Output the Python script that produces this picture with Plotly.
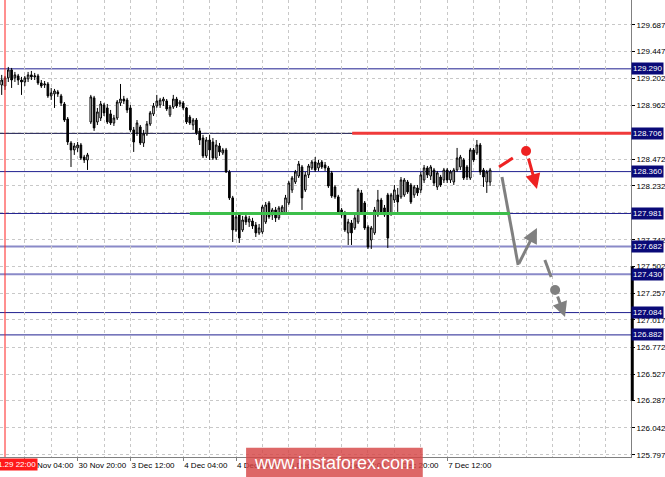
import plotly.graph_objects as go

# ---------------- data ----------------
bar_index = list(range(-1, 148))  # H1 bars, 0 = 2018.11.29 22:00

opens = [129.144,129.135,129.208,129.280,129.208,129.226,129.189,129.171,129.199,129.235,
         129.217,129.226,129.162,129.144,129.153,129.045,129.063,129.081,129.045,128.972,
         128.836,128.619,128.556,128.574,128.601,128.492,128.465,
         128.809,129.027,128.809,128.845,128.963,128.936,128.882,128.800,128.845,128.981,
         129.017,129.008,128.936,128.737,128.710,128.764,128.619,128.701,128.791,128.882,
         128.954,128.963,128.999,128.999,128.873,128.945,129.017,128.972,128.981,128.936,
         128.854,128.782,128.827,128.728,128.664,128.502,128.646,128.628,128.483,128.592,
         128.529,128.556,128.357,128.122,127.832,127.968,127.832,127.950,127.904,127.913,
         127.877,127.805,127.814,127.904,128.076,127.968,128.013,127.941,127.995,127.986,
         128.076,128.194,128.266,128.320,128.402,128.194,128.330,128.393,128.447,128.393,
         128.447,128.420,128.393,128.348,128.221,128.131,128.013,127.986,127.805,127.895,
         127.850,127.904,128.167,128.076,127.859,127.741,127.805,127.968,128.103,128.031,
         128.149,127.986,128.103,128.149,128.131,128.149,128.266,128.239,128.149,128.212,
         128.194,128.284,128.393,128.320,128.375,128.221,128.311,128.284,128.375,128.284,
         128.266,128.375,128.402,128.465,128.402,128.302,128.556,128.529,128.601,128.375,
         128.266,128.266]
highs = [129.235,129.226,129.307,129.298,129.262,129.244,129.217,129.226,129.262,129.271,
         129.253,129.244,129.189,129.180,129.171,129.117,129.108,129.099,129.063,128.990,
         128.854,128.637,128.619,128.628,128.619,128.511,128.529,
         129.054,129.045,128.936,128.999,128.981,128.972,128.918,128.873,129.008,129.153,
         129.045,129.027,128.963,128.764,128.827,128.782,128.737,128.818,128.909,128.981,
         129.054,129.027,129.036,129.017,128.963,129.054,129.036,129.008,128.999,128.945,
         128.873,128.845,128.845,128.755,128.692,128.673,128.692,128.664,128.646,128.619,
         128.574,128.574,128.375,128.140,127.977,127.986,127.959,127.968,127.959,127.941,
         127.904,127.886,128.058,128.085,128.094,128.031,128.040,128.049,128.058,128.149,
         128.275,128.320,128.375,128.456,128.420,128.357,128.429,128.465,128.492,128.465,
         128.465,128.447,128.411,128.366,128.239,128.149,128.031,128.004,127.932,127.922,
         127.968,128.212,128.194,128.094,127.877,127.868,128.040,128.194,128.122,128.058,
         128.167,128.167,128.239,128.212,128.311,128.302,128.284,128.257,128.239,128.239,
         128.357,128.420,128.411,128.420,128.393,128.366,128.330,128.393,128.393,128.375,
         128.393,128.574,128.511,128.483,128.420,128.574,128.574,128.646,128.619,128.393,
         128.375,128.393]
lows = [129.054,129.099,129.171,129.117,129.171,129.144,129.054,129.135,129.171,129.189,
        129.189,129.144,129.117,129.117,129.027,129.008,128.936,129.036,128.954,128.809,
        128.601,128.402,128.511,128.538,128.465,128.438,128.375,
        128.791,128.728,128.782,128.818,128.863,128.791,128.782,128.773,128.827,128.954,
        128.972,128.891,128.719,128.538,128.683,128.601,128.583,128.683,128.773,128.863,
        128.936,128.936,128.954,128.909,128.854,128.927,128.936,128.945,128.918,128.791,
        128.782,128.737,128.692,128.601,128.483,128.483,128.465,128.465,128.465,128.502,
        128.511,128.348,128.103,127.723,127.814,127.714,127.814,127.877,127.859,127.841,
        127.768,127.787,127.796,127.886,127.932,127.922,127.904,127.922,127.977,127.968,
        128.058,128.167,128.248,128.302,128.013,128.176,128.302,128.375,128.357,128.366,
        128.384,128.366,128.212,128.122,128.113,127.968,127.941,127.814,127.696,127.696,
        127.832,127.886,127.977,127.832,127.660,127.660,127.787,127.950,127.977,127.950,
        127.669,127.959,128.076,127.995,128.113,128.131,128.158,128.067,128.122,128.140,
        128.167,128.257,128.302,128.284,128.230,128.194,128.221,128.257,128.257,128.257,
        128.239,128.357,128.375,128.284,128.284,128.284,128.447,128.511,128.330,128.221,
        128.167,128.230]
closes = [129.189,129.208,129.280,129.189,129.235,129.189,129.171,129.208,129.235,129.217,
          129.226,129.162,129.135,129.153,129.045,129.072,129.090,129.063,128.981,128.827,
          128.628,128.556,128.592,128.601,128.483,128.465,128.511,
          129.036,128.755,128.900,128.972,128.891,128.809,128.800,128.845,128.990,129.017,
          128.999,128.918,128.737,128.628,128.800,128.619,128.701,128.791,128.891,128.954,
          128.999,129.008,129.017,128.927,128.945,129.017,128.954,128.990,128.936,128.809,
          128.800,128.827,128.710,128.646,128.502,128.646,128.556,128.483,128.601,128.538,
          128.556,128.357,128.122,127.832,127.950,127.759,127.922,127.904,127.932,127.868,
          127.805,127.850,128.040,128.058,127.950,128.013,127.941,128.031,128.040,128.122,
          128.257,128.302,128.357,128.429,128.122,128.330,128.411,128.447,128.375,128.438,
          128.402,128.393,128.230,128.140,128.131,127.986,127.968,127.832,127.904,127.805,
          127.941,128.194,127.995,127.850,127.678,127.850,128.013,128.103,127.995,127.968,
          127.759,128.149,128.194,128.085,128.284,128.284,128.176,128.085,128.221,128.167,
          128.330,128.393,128.330,128.402,128.257,128.348,128.239,128.375,128.284,128.357,
          128.375,128.483,128.492,128.302,128.311,128.556,128.465,128.601,128.357,128.311,
          128.357,128.375]

# x-axis time labels (bar index -> label)
time_label_bars = [6, 22, 38, 54, 70, 86, 102, 118, 134]
time_labels = ["30 Nov 04:00", "30 Nov 20:00", "3 Dec 12:00", "4 Dec 04:00", "4 Dec 20:00",
               "5 Dec 12:00", "6 Dec 04:00", "6 Dec 20:00", "7 Dec 12:00"]
separator_bar = 0
separator_label = "2018.11.29 22:00"

# price scale labels
price_ticks = [129.687, 129.447, 129.202, 128.962, 128.717, 128.472, 128.232, 127.987,
               127.742, 127.502, 127.257, 127.017, 126.772, 126.527, 126.287, 126.042, 125.797]
price_tick_text = ["129.687", "129.447", "129.202", "128.962", "", "128.472", "128.232", "",
                   "127.742", "127.502", "127.257", "127.017", "126.772", "126.527", "126.287",
                   "126.042", "125.797"]

# horizontal levels
levels = [129.290, 128.706, 128.360, 127.981, 127.682, 127.430, 127.084, 126.882]
level_colors = ["#1f1f8f", "#15154a", "#1f1f8f", "#1f1f8f", "#8a8ac8", "#8a8ac8", "#1f1f8f", "#1f1f8f"]
level_widths = [1, 1, 1, 1, 2, 2, 1, 1]

resistance_level = 128.706
resistance_from_bar = 105.2
support_level = 127.981
support_bars = [56, 153]

# scenario drawings (bar index, price)
red_seg_x = [149.7, 153.9]
red_seg_y = [128.402, 128.483]
red_dot = (157.9, 128.547)
red_arrow = [(158.5, 128.492), (161.2, 128.203)]
gray_seg_x = [150.6, 155.5]
gray_seg_y = [128.311, 127.515]
gray_arrow1 = [(155.5, 127.515), (161.2, 127.850)]
gray_seg2_x = [163.6, 165.5]
gray_seg2_y = [127.560, 127.406]
gray_dot = (166.7, 127.289)
gray_arrow2 = [(167.3, 127.243), (169.7, 127.044)]

# ---------------- figure ----------------
fig = go.Figure()
fig.add_trace(go.Candlestick(
    x=bar_index, open=opens, high=highs, low=lows, close=closes,
    increasing=dict(line=dict(color="black", width=1), fillcolor="white"),
    decreasing=dict(line=dict(color="black", width=1), fillcolor="black"),
    whiskerwidth=0, showlegend=False, hoverinfo="skip"))

shapes = []
for lv, col, w in zip(levels, level_colors, level_widths):
    shapes.append(dict(type="line", xref="paper", x0=0, x1=1, yref="y", y0=lv, y1=lv,
                       line=dict(color=col, width=w), layer="below"))
shapes.append(dict(type="line", xref="x", x0=resistance_from_bar, x1=189.7, yref="y",
                   y0=resistance_level, y1=resistance_level, line=dict(color="#f03a3a", width=3)))
shapes.append(dict(type="line", xref="x", x0=support_bars[0], x1=support_bars[1], yref="y",
                   y0=support_level, y1=support_level, line=dict(color="#3cbf4a", width=3)))
shapes.append(dict(type="line", xref="x", x0=separator_bar, x1=separator_bar, yref="paper",
                   y0=0, y1=1, line=dict(color="#ff2020", width=1)))
shapes.append(dict(type="line", xref="paper", x0=1.002, x1=1.002, yref="y", y0=127.502, y1=126.287,
                   line=dict(color="black", width=3)))
# watermark box
shapes.append(dict(type="rect", xref="paper", yref="paper", x0=0.39, x1=0.67, y0=0.02, y1=-0.05,
                   fillcolor="rgba(214,70,70,0.82)", line=dict(width=0), layer="above"))
fig.update_layout(shapes=shapes)

fig.add_trace(go.Scatter(x=red_seg_x, y=red_seg_y, mode="lines",
                         line=dict(color="#ee2222", width=3), showlegend=False, hoverinfo="skip"))
fig.add_trace(go.Scatter(x=[red_dot[0]], y=[red_dot[1]], mode="markers",
                         marker=dict(color="#ee2222", size=10), showlegend=False, hoverinfo="skip"))
fig.add_trace(go.Scatter(x=gray_seg_x, y=gray_seg_y, mode="lines",
                         line=dict(color="#808080", width=3), showlegend=False, hoverinfo="skip"))
fig.add_trace(go.Scatter(x=gray_seg2_x, y=gray_seg2_y, mode="lines",
                         line=dict(color="#808080", width=3), showlegend=False, hoverinfo="skip"))
fig.add_trace(go.Scatter(x=[gray_dot[0]], y=[gray_dot[1]], mode="markers",
                         marker=dict(color="#808080", size=10), showlegend=False, hoverinfo="skip"))

annotations = []
for (tail, head, col) in [(red_arrow[0], red_arrow[1], "#ee2222"),
                          (gray_arrow1[0], gray_arrow1[1], "#808080"),
                          (gray_arrow2[0], gray_arrow2[1], "#808080")]:
    annotations.append(dict(x=head[0], y=head[1], ax=tail[0], ay=tail[1], xref="x", yref="y",
                            axref="x", ayref="y", text="", showarrow=True, arrowhead=2,
                            arrowsize=1, arrowwidth=3, arrowcolor=col, standoff=0))
for lv in levels:
    annotations.append(dict(x=1, y=lv, xref="paper", yref="y", xanchor="left", yanchor="middle",
                            text=f"{lv:.3f}", showarrow=False, bgcolor="#0a0a78",
                            font=dict(color="white", size=8, family="Liberation Sans"),
                            borderpad=1))
annotations.append(dict(x=separator_bar, y=-0.003, xref="x", yref="paper", xanchor="center",
                        yanchor="top", text=separator_label, showarrow=False, bgcolor="#ff1a1a",
                        font=dict(color="white", size=8, family="Liberation Sans"), borderpad=1))
annotations.append(dict(x=0.53, y=-0.013, xref="paper", yref="paper", xanchor="center",
                        yanchor="middle", text="www.instaforex.com", showarrow=False,
                        font=dict(color="white", size=18, family="Liberation Sans")))
fig.update_layout(annotations=annotations)

fig.update_layout(
    width=665, height=477,
    margin=dict(l=0, r=34, t=0, b=20),
    paper_bgcolor="white", plot_bgcolor="white",
    showlegend=False,
    xaxis=dict(range=[-1.515, 189.7], rangeslider=dict(visible=False),
               tickmode="array", tickvals=time_label_bars, ticktext=time_labels,
               tickangle=0, ticklabelposition="outside right", ticks="outside", ticklen=3,
               tickcolor="#808080",
               tickfont=dict(size=8, color="black", family="Liberation Sans"),
               showgrid=True, gridcolor="#c8c8c8", griddash="3px,3px", gridwidth=1,
               minor=dict(dtick=8, tick0=-2, showgrid=True, gridcolor="#c8c8c8",
                          griddash="3px,3px", gridwidth=1, ticklen=0),
               showline=True, linecolor="#808080", linewidth=1, zeroline=False, fixedrange=True),
    yaxis=dict(range=[125.777, 129.913], side="right",
               tickmode="array", tickvals=price_ticks, ticktext=price_tick_text,
               ticks="outside", ticklen=3, tickcolor="black",
               tickfont=dict(size=8, color="black", family="Liberation Sans"),
               showgrid=True, gridcolor="#c8c8c8", griddash="3px,3px", gridwidth=1,
               showline=True, linecolor="#808080", linewidth=1, zeroline=False, fixedrange=True),
)

fig.write_html("out.html", config={"displayModeBar": False},
               post_script="document.body.style.margin='0';document.body.style.overflow='hidden';")
